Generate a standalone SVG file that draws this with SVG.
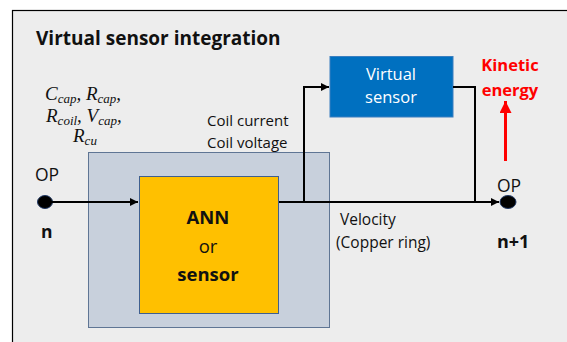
<svg xmlns="http://www.w3.org/2000/svg" width="567" height="342" viewBox="0 0 567 342">
  <style>
    .t { font-family: "Open Sans", "Noto Sans", "Liberation Sans", sans-serif; fill: #111; }
    .b { font-weight: bold; }
    .w { fill: #ffffff; }
    .red { fill: #ff0000; }
    .m { font-family: "Liberation Serif", "DejaVu Serif", serif; font-style: italic; font-size: 19px; fill: #111; }
    .sub { font-size: 13px; }
    .wire { fill: none; stroke: #000; stroke-width: 2; }
  </style>
  <defs>
    <marker id="arr" viewBox="0 0 10 10" refX="10" refY="5" markerWidth="9" markerHeight="8" orient="auto" markerUnits="userSpaceOnUse">
      <path d="M0,0 L10,5 L0,10 z" fill="#000"/>
    </marker>
    <marker id="arrRed" viewBox="0 0 10 10" refX="10" refY="5" markerWidth="4" markerHeight="4" orient="auto" markerUnits="strokeWidth">
      <path d="M0,0 L10,5 L0,10 z" fill="#ff0000"/>
    </marker>
  </defs>

  <!-- page and frame -->
  <rect x="0" y="0" width="567" height="342" fill="#ffffff"/>
  <rect x="12.5" y="10.5" width="560" height="340" fill="#ededed" stroke="#000" stroke-width="1.2"/>

  <text class="t b" x="36" y="45" font-size="19">Virtual sensor integration</text>

  <!-- parameter list -->
  <g id="params">
    <text class="m" x="45" y="100">C<tspan class="sub" dy="3">cap</tspan><tspan dy="-3">, R</tspan><tspan class="sub" dy="3">cap</tspan><tspan dy="-3">,</tspan></text>
    <text class="m" x="46" y="122">R<tspan class="sub" dy="3">coil</tspan><tspan dy="-3">, V</tspan><tspan class="sub" dy="3">cap</tspan><tspan dy="-3">,</tspan></text>
    <text class="m" x="73" y="142">R<tspan class="sub" dy="3">cu</tspan></text>
  </g>

  <!-- system block -->
  <g id="system">
    <rect x="88.5" y="152.5" width="241" height="175" fill="#c8d0dc" stroke="#5f7594" stroke-width="1"/>
  </g>

  <g id="ann">
    <rect x="139.5" y="176.5" width="139" height="137" fill="#ffc000" stroke="#3f5f8f" stroke-width="1"/>
    <text class="t b" x="208" y="224" font-size="18.5" text-anchor="middle">ANN</text>
    <text class="t" x="208" y="253" font-size="18.5" text-anchor="middle">or</text>
    <text class="t b" x="208" y="281" font-size="18.5" text-anchor="middle">sensor</text>
  </g>

  <g id="virtual-sensor">
    <rect x="330" y="56.5" width="123" height="60.5" fill="#0070c0" stroke="#3a7fc0" stroke-width="1"/>
    <text class="t w" x="391" y="80" font-size="16.5" text-anchor="middle">Virtual</text>
    <text class="t w" x="391" y="103" font-size="16.5" text-anchor="middle">sensor</text>
  </g>

  <g id="op-n">
    <ellipse cx="45" cy="202" rx="7.5" ry="6.5" fill="#000" stroke="#203864" stroke-width="1"/>
    <text class="t" x="35" y="181" font-size="17.5">OP</text>
    <text class="t b" x="41" y="238" font-size="17.5">n</text>
  </g>

  <g id="op-n1">
    <ellipse cx="508" cy="202" rx="8" ry="6.5" fill="#000" stroke="#203864" stroke-width="1"/>
    <text class="t" x="497" y="192" font-size="17.5">OP</text>
    <text class="t b" x="497" y="248" font-size="18">n+1</text>
  </g>

  <g id="kinetic">
    <text class="t b red" x="510" y="71" font-size="16.5" text-anchor="middle">Kinetic</text>
    <text class="t b red" x="510" y="96" font-size="16.5" text-anchor="middle">energy</text>
  </g>

  <!-- connectors -->
  <g id="connectors">
    <line class="wire" x1="50" y1="202" x2="138" y2="202" stroke-width="1.5" marker-end="url(#arr)"/>
    <line class="wire" x1="279" y1="202" x2="499" y2="202" marker-end="url(#arr)"/>
    <polyline class="wire" points="304,202 304,87 329,87" marker-end="url(#arr)"/>
    <polyline class="wire" points="453,87 475,87 475,202"/>
    <line x1="505.5" y1="161" x2="505.5" y2="101" stroke="#ff0000" stroke-width="3" marker-end="url(#arrRed)"/>
  </g>

  <!-- signal labels -->
  <g id="labels">
    <text class="t" x="207" y="126" font-size="15">Coil current</text>
    <text class="t" x="207" y="148" font-size="15">Coil voltage</text>
    <text class="t" x="340" y="225" font-size="15.5">Velocity</text>
    <text class="t" x="336" y="248" font-size="15.5">(Copper ring)</text>
  </g>
</svg>
